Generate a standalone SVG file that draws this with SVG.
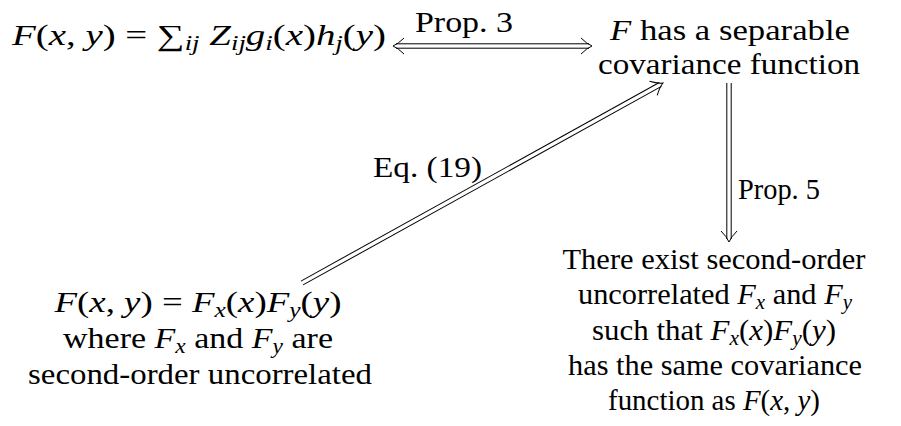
<svg xmlns="http://www.w3.org/2000/svg" width="901" height="426" viewBox="0 0 901 426" font-family="Liberation Serif, Tinos, Times New Roman, Times, Noto Serif, DejaVu Serif, FreeSerif, serif" font-size="29">
<style>
.c{text-anchor:middle}
.i{font-style:italic}
.s{font-size:20px}
.ln{stroke:#000;stroke-width:1;fill:none}
</style>
<defs>
<path id="head" d="M-11,-8 Q-5,-2 0,0 Q-5,2 -11,8" class="ln"/>
</defs>
<rect width="901" height="426" fill="#fff"/>
<g id="node-sum">
<text x="12" y="45" textLength="374" lengthAdjust="spacingAndGlyphs"><tspan class="i">F</tspan>(<tspan class="i">x</tspan>, <tspan class="i">y</tspan>) = ∑<tspan class="s i" dy="5">ij</tspan><tspan dy="-5"> </tspan><tspan class="i">Z</tspan><tspan class="s i" dy="5">ij</tspan><tspan class="i" dy="-5">g</tspan><tspan class="s i" dy="5">i</tspan><tspan dy="-5">(</tspan><tspan class="i">x</tspan>)<tspan class="i">h</tspan><tspan class="s i" dy="5">j</tspan><tspan dy="-5">(</tspan><tspan class="i">y</tspan>)</text>
</g>
<g id="node-sep">
<text class="c" x="730" y="40" textLength="240" lengthAdjust="spacingAndGlyphs"><tspan class="i">F</tspan> has a separable</text>
<text class="c" x="729" y="74" textLength="262" lengthAdjust="spacingAndGlyphs">covariance function</text>
</g>
<g id="node-prod">
<text class="c" x="198" y="312" textLength="287" lengthAdjust="spacingAndGlyphs"><tspan class="i">F</tspan>(<tspan class="i">x</tspan>, <tspan class="i">y</tspan>) = <tspan class="i">F</tspan><tspan class="s i" dy="5">x</tspan><tspan dy="-5">(</tspan><tspan class="i">x</tspan>)<tspan class="i">F</tspan><tspan class="s i" dy="5">y</tspan><tspan dy="-5">(</tspan><tspan class="i">y</tspan>)</text>
<text class="c" x="198" y="348" textLength="270" lengthAdjust="spacingAndGlyphs">where <tspan class="i">F</tspan><tspan class="s i" dy="5">x</tspan><tspan dy="-5"> and </tspan><tspan class="i">F</tspan><tspan class="s i" dy="5">y</tspan><tspan dy="-5"> are</tspan></text>
<text class="c" x="200" y="384" textLength="344" lengthAdjust="spacingAndGlyphs">second-order uncorrelated</text>
</g>
<g id="node-exist">
<text class="c" x="714" y="269" textLength="303" lengthAdjust="spacingAndGlyphs">There exist second-order</text>
<text class="c" x="715" y="304" textLength="274" lengthAdjust="spacingAndGlyphs">uncorrelated <tspan class="i">F</tspan><tspan class="s i" dy="5">x</tspan><tspan dy="-5"> and </tspan><tspan class="i">F</tspan><tspan class="s i" dy="5">y</tspan></text>
<text class="c" x="714" y="340" textLength="244" lengthAdjust="spacingAndGlyphs">such that <tspan class="i">F</tspan><tspan class="s i" dy="5">x</tspan><tspan dy="-5">(</tspan><tspan class="i">x</tspan>)<tspan class="i">F</tspan><tspan class="s i" dy="5">y</tspan><tspan dy="-5">(</tspan><tspan class="i">y</tspan>)</text>
<text class="c" x="715" y="375" textLength="294" lengthAdjust="spacingAndGlyphs">has the same covariance</text>
<text class="c" x="714" y="410" textLength="212" lengthAdjust="spacingAndGlyphs">function as <tspan class="i">F</tspan>(<tspan class="i">x</tspan>, <tspan class="i">y</tspan>)</text>
</g>
<g id="connectors">
<g id="edge-prop3" transform="translate(393,46)">
<line class="ln" x1="3" y1="-2.2" x2="196" y2="-2.2"/>
<line class="ln" x1="3" y1="2.2" x2="196" y2="2.2"/>
<use href="#head" transform="translate(199,0)"/>
<use href="#head" transform="scale(-1,1)"/>
</g>
<text class="c" x="464" y="32" textLength="98" lengthAdjust="spacingAndGlyphs">Prop. 3</text>
<g id="edge-prop5" transform="translate(729,83) rotate(90)">
<line class="ln" x1="0" y1="-2.2" x2="156" y2="-2.2"/>
<line class="ln" x1="0" y1="2.2" x2="156" y2="2.2"/>
<use href="#head" transform="translate(159,0)"/>
</g>
<text x="738" y="199" textLength="82" lengthAdjust="spacingAndGlyphs">Prop. 5</text>
<g id="edge-eq19" transform="translate(302,283) rotate(-28.99)">
<line class="ln" x1="0" y1="-2.2" x2="409.7" y2="-2.2"/>
<line class="ln" x1="0" y1="2.2" x2="409.7" y2="2.2"/>
<use href="#head" transform="translate(412.7,0)"/>
</g>
<text x="373" y="177" textLength="109" lengthAdjust="spacingAndGlyphs">Eq. (19)</text>
</g>
</svg>
